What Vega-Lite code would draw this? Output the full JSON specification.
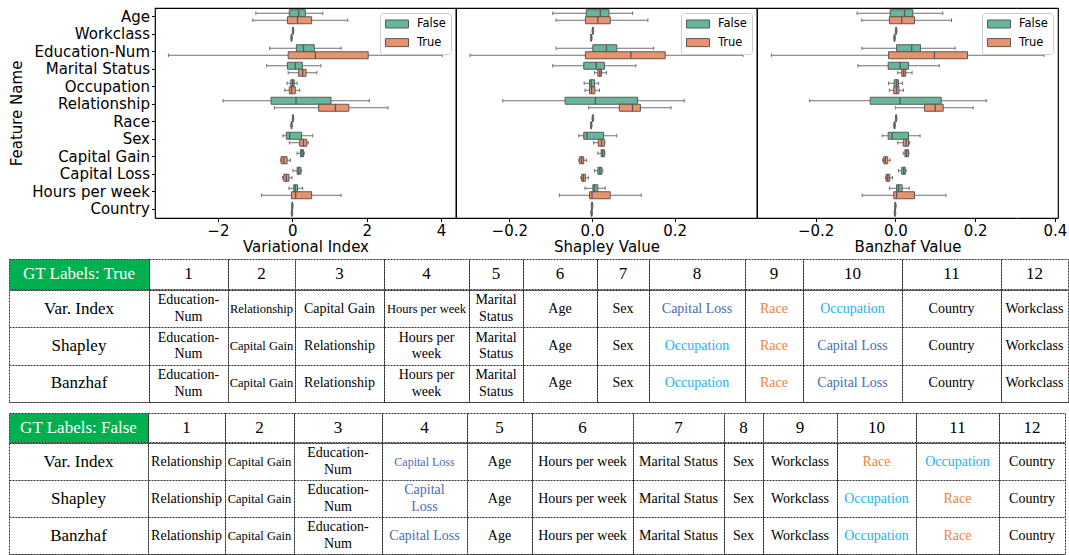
{
"$schema":"https://vega.github.io/schema/vega-lite/v6.json",
"padding":{"left":8,"top":7,"right":0,"bottom":0},
"spacing":2,
"config":{
 "font":"DejaVu Sans",
 "view":{"stroke":"#333","strokeDash":[2,1],"strokeWidth":1},
 "axis":{"labelFont":"DejaVu Sans","titleFont":"DejaVu Sans","labelFontSize":15,"titleFontSize":15,"titleFontWeight":"normal","labelColor":"#000","titleColor":"#000","tickColor":"#000","tickSize":3.5,"labelPadding":2,"titlePadding":1,"domain":false,"grid":false,"gridColor":"#333","gridDash":[2,1],"gridOpacity":1,"gridWidth":1,"labelFlush":false},
 "legend":{"labelFont":"DejaVu Sans","labelFontSize":11.5,"labelColor":"#000","strokeColor":"#cccccc","fillColor":"#ffffff","cornerRadius":3,"padding":5,"rowPadding":4.6,"labelOffset":20,"offset":5,"orient":"top-right","symbolType":"M-1,-0.73H3.18V0.73H-1Z","symbolSize":121,"symbolStrokeColor":"#595959","symbolStrokeWidth":1,"symbolOpacity":1},
 "text":{"font":"Liberation Serif","fontSize":14,"lineBreak":"\n","lineHeight":16.5,"color":"#000"},
 "tick":{"opacity":1},
 "concat":{"spacing":0}
},
"datasets":{
 "box":[
  {"p":"V","f":"Age","g":"False","lo":-0.98,"q1":-0.08,"md":0.17,"q3":0.35,"hi":0.82},
  {"p":"V","f":"Age","g":"True","lo":-1.06,"q1":-0.13,"md":0.14,"q3":0.52,"hi":1.49},
  {"p":"V","f":"Workclass","g":"False","lo":0,"q1":0.01,"md":0.02,"q3":0.03,"hi":0.04},
  {"p":"V","f":"Workclass","g":"True","lo":-0.04,"q1":-0.03,"md":-0.02,"q3":-0.01,"hi":0},
  {"p":"V","f":"Education-Num","g":"False","lo":-0.61,"q1":0.11,"md":0.3,"q3":0.59,"hi":1.31},
  {"p":"V","f":"Education-Num","g":"True","lo":-3.33,"q1":-0.11,"md":0.62,"q3":2.04,"hi":4.03},
  {"p":"V","f":"Marital Status","g":"False","lo":-0.69,"q1":-0.13,"md":0.08,"q3":0.27,"hi":0.77},
  {"p":"V","f":"Marital Status","g":"True","lo":-0.11,"q1":0.17,"md":0.28,"q3":0.37,"hi":0.66},
  {"p":"V","f":"Occupation","g":"False","lo":-0.14,"q1":-0.04,"md":0.01,"q3":0.05,"hi":0.13},
  {"p":"V","f":"Occupation","g":"True","lo":-0.2,"q1":-0.08,"md":-0.02,"q3":0.08,"hi":0.2},
  {"p":"V","f":"Relationship","g":"False","lo":-1.86,"q1":-0.57,"md":0.1,"q3":1.04,"hi":2.07},
  {"p":"V","f":"Relationship","g":"True","lo":-0.48,"q1":0.71,"md":1.16,"q3":1.52,"hi":2.57},
  {"p":"V","f":"Race","g":"False","lo":0,"q1":0.01,"md":0.02,"q3":0.03,"hi":0.04},
  {"p":"V","f":"Race","g":"True","lo":-0.04,"q1":-0.03,"md":-0.02,"q3":-0.01,"hi":0},
  {"p":"V","f":"Sex","g":"False","lo":-0.25,"q1":-0.16,"md":-0.07,"q3":0.25,"hi":0.55},
  {"p":"V","f":"Sex","g":"True","lo":-0.08,"q1":0.2,"md":0.3,"q3":0.39,"hi":0.43},
  {"p":"V","f":"Capital Gain","g":"False","lo":0.13,"q1":0.22,"md":0.26,"q3":0.3,"hi":0.32},
  {"p":"V","f":"Capital Gain","g":"True","lo":-0.32,"q1":-0.3,"md":-0.23,"q3":-0.14,"hi":-0.05},
  {"p":"V","f":"Capital Loss","g":"False","lo":0.02,"q1":0.13,"md":0.17,"q3":0.23,"hi":0.25},
  {"p":"V","f":"Capital Loss","g":"True","lo":-0.26,"q1":-0.23,"md":-0.16,"q3":-0.09,"hi":-0.01},
  {"p":"V","f":"Hours per week","g":"False","lo":-0.09,"q1":0.04,"md":0.08,"q3":0.14,"hi":0.28},
  {"p":"V","f":"Hours per week","g":"True","lo":-0.83,"q1":-0.02,"md":0.09,"q3":0.52,"hi":1.31},
  {"p":"V","f":"Country","g":"False","lo":-0.02,"q1":-0.01,"md":0,"q3":0.01,"hi":0.02},
  {"p":"V","f":"Country","g":"True","lo":-0.03,"q1":-0.02,"md":-0.01,"q3":0,"hi":0.01},
  {"p":"S","f":"Age","g":"False","lo":-0.095,"q1":-0.014,"md":0.02,"q3":0.041,"hi":0.098},
  {"p":"S","f":"Age","g":"True","lo":-0.087,"q1":-0.016,"md":0.014,"q3":0.044,"hi":0.135},
  {"p":"S","f":"Workclass","g":"False","lo":0,"q1":0.001,"md":0.002,"q3":0.003,"hi":0.004},
  {"p":"S","f":"Workclass","g":"True","lo":-0.004,"q1":-0.003,"md":-0.002,"q3":-0.001,"hi":0},
  {"p":"S","f":"Education-Num","g":"False","lo":-0.087,"q1":0.002,"md":0.035,"q3":0.06,"hi":0.149},
  {"p":"S","f":"Education-Num","g":"True","lo":-0.295,"q1":-0.016,"md":0.094,"q3":0.177,"hi":0.365},
  {"p":"S","f":"Marital Status","g":"False","lo":-0.095,"q1":-0.02,"md":0.01,"q3":0.03,"hi":0.106},
  {"p":"S","f":"Marital Status","g":"True","lo":0.006,"q1":0.014,"md":0.019,"q3":0.023,"hi":0.035},
  {"p":"S","f":"Occupation","g":"False","lo":-0.019,"q1":-0.006,"md":-0.002,"q3":0.006,"hi":0.016},
  {"p":"S","f":"Occupation","g":"True","lo":-0.017,"q1":-0.006,"md":-0.001,"q3":0.007,"hi":0.018},
  {"p":"S","f":"Relationship","g":"False","lo":-0.216,"q1":-0.065,"md":0.008,"q3":0.11,"hi":0.223},
  {"p":"S","f":"Relationship","g":"True","lo":-0.008,"q1":0.066,"md":0.098,"q3":0.117,"hi":0.191},
  {"p":"S","f":"Race","g":"False","lo":0,"q1":0.001,"md":0.002,"q3":0.003,"hi":0.004},
  {"p":"S","f":"Race","g":"True","lo":-0.004,"q1":-0.003,"md":-0.002,"q3":-0.001,"hi":0},
  {"p":"S","f":"Sex","g":"False","lo":-0.032,"q1":-0.02,"md":-0.012,"q3":0.028,"hi":0.06},
  {"p":"S","f":"Sex","g":"True","lo":0.004,"q1":0.015,"md":0.023,"q3":0.03,"hi":0.031},
  {"p":"S","f":"Capital Gain","g":"False","lo":0.014,"q1":0.022,"md":0.026,"q3":0.03,"hi":0.031},
  {"p":"S","f":"Capital Gain","g":"True","lo":-0.032,"q1":-0.03,"md":-0.025,"q3":-0.02,"hi":-0.013},
  {"p":"S","f":"Capital Loss","g":"False","lo":0.006,"q1":0.014,"md":0.019,"q3":0.024,"hi":0.026},
  {"p":"S","f":"Capital Loss","g":"True","lo":-0.027,"q1":-0.025,"md":-0.021,"q3":-0.016,"hi":-0.009},
  {"p":"S","f":"Hours per week","g":"False","lo":-0.017,"q1":0.002,"md":0.006,"q3":0.014,"hi":0.032},
  {"p":"S","f":"Hours per week","g":"True","lo":-0.079,"q1":-0.006,"md":0,"q3":0.044,"hi":0.119},
  {"p":"S","f":"Country","g":"False","lo":-0.002,"q1":-0.001,"md":0,"q3":0.001,"hi":0.002},
  {"p":"S","f":"Country","g":"True","lo":-0.003,"q1":-0.002,"md":-0.001,"q3":0,"hi":0.001},
  {"p":"B","f":"Age","g":"False","lo":-0.096,"q1":-0.013,"md":0.023,"q3":0.044,"hi":0.119},
  {"p":"B","f":"Age","g":"True","lo":-0.084,"q1":-0.015,"md":0.016,"q3":0.048,"hi":0.141},
  {"p":"B","f":"Workclass","g":"False","lo":0,"q1":0.001,"md":0.002,"q3":0.003,"hi":0.004},
  {"p":"B","f":"Workclass","g":"True","lo":-0.004,"q1":-0.003,"md":-0.002,"q3":-0.001,"hi":0},
  {"p":"B","f":"Education-Num","g":"False","lo":-0.084,"q1":0.003,"md":0.041,"q3":0.063,"hi":0.15},
  {"p":"B","f":"Education-Num","g":"True","lo":-0.311,"q1":-0.017,"md":0.098,"q3":0.181,"hi":0.373},
  {"p":"B","f":"Marital Status","g":"False","lo":-0.094,"q1":-0.018,"md":0.012,"q3":0.033,"hi":0.11},
  {"p":"B","f":"Marital Status","g":"True","lo":0.006,"q1":0.016,"md":0.021,"q3":0.026,"hi":0.042},
  {"p":"B","f":"Occupation","g":"False","lo":-0.017,"q1":-0.003,"md":0.003,"q3":0.008,"hi":0.018},
  {"p":"B","f":"Occupation","g":"True","lo":-0.015,"q1":-0.004,"md":0.003,"q3":0.009,"hi":0.02},
  {"p":"B","f":"Relationship","g":"False","lo":-0.215,"q1":-0.063,"md":0.012,"q3":0.115,"hi":0.228},
  {"p":"B","f":"Relationship","g":"True","lo":0,"q1":0.073,"md":0.1,"q3":0.12,"hi":0.195},
  {"p":"B","f":"Race","g":"False","lo":0,"q1":0.001,"md":0.002,"q3":0.003,"hi":0.004},
  {"p":"B","f":"Race","g":"True","lo":-0.004,"q1":-0.003,"md":-0.002,"q3":-0.001,"hi":0},
  {"p":"B","f":"Sex","g":"False","lo":-0.033,"q1":-0.018,"md":-0.008,"q3":0.033,"hi":0.062},
  {"p":"B","f":"Sex","g":"True","lo":0.006,"q1":0.02,"md":0.027,"q3":0.033,"hi":0.036},
  {"p":"B","f":"Capital Gain","g":"False","lo":0.02,"q1":0.024,"md":0.028,"q3":0.033,"hi":0.034},
  {"p":"B","f":"Capital Gain","g":"True","lo":-0.032,"q1":-0.029,"md":-0.025,"q3":-0.019,"hi":-0.013},
  {"p":"B","f":"Capital Loss","g":"False","lo":0.008,"q1":0.016,"md":0.021,"q3":0.025,"hi":0.027},
  {"p":"B","f":"Capital Loss","g":"True","lo":-0.025,"q1":-0.023,"md":-0.019,"q3":-0.014,"hi":-0.007},
  {"p":"B","f":"Hours per week","g":"False","lo":-0.015,"q1":0.003,"md":0.008,"q3":0.017,"hi":0.035},
  {"p":"B","f":"Hours per week","g":"True","lo":-0.083,"q1":-0.004,"md":0.003,"q3":0.048,"hi":0.127},
  {"p":"B","f":"Country","g":"False","lo":-0.002,"q1":-0.001,"md":0,"q3":0.001,"hi":0.002},
  {"p":"B","f":"Country","g":"True","lo":-0.003,"q1":-0.002,"md":-0.001,"q3":0,"hi":0.001}
 ],
 "h1":[{"k":0,"t":"GT Labels: True"},{"k":1,"t":"1"},{"k":2,"t":"2"},{"k":3,"t":"3"},{"k":4,"t":"4"},{"k":5,"t":"5"},{"k":6,"t":"6"},{"k":7,"t":"7"},{"k":8,"t":"8"},{"k":9,"t":"9"},{"k":10,"t":"10"},{"k":11,"t":"11"},{"k":12,"t":"12"}],
 "h2":[{"k":0,"t":"GT Labels: False"},{"k":1,"t":"1"},{"k":2,"t":"2"},{"k":3,"t":"3"},{"k":4,"t":"4"},{"k":5,"t":"5"},{"k":6,"t":"6"},{"k":7,"t":"7"},{"k":8,"t":"8"},{"k":9,"t":"9"},{"k":10,"t":"10"},{"k":11,"t":"11"},{"k":12,"t":"12"}],
 "t1":[
  {"k":0,"r":"Var. Index","t":"Var. Index"},{"k":0,"r":"Shapley","t":"Shapley"},{"k":0,"r":"Banzhaf","t":"Banzhaf"},
  {"k":1,"r":"Var. Index","t":"Education-\nNum"},{"k":1,"r":"Shapley","t":"Education-\nNum"},{"k":1,"r":"Banzhaf","t":"Education-\nNum"},
  {"k":2,"r":"Var. Index","t":"Relationship"},{"k":2,"r":"Shapley","t":"Capital Gain"},{"k":2,"r":"Banzhaf","t":"Capital Gain"},
  {"k":3,"r":"Var. Index","t":"Capital Gain"},{"k":3,"r":"Shapley","t":"Relationship"},{"k":3,"r":"Banzhaf","t":"Relationship"},
  {"k":4,"r":"Var. Index","t":"Hours per week"},{"k":4,"r":"Shapley","t":"Hours per\nweek"},{"k":4,"r":"Banzhaf","t":"Hours per\nweek"},
  {"k":5,"r":"Var. Index","t":"Marital\nStatus"},{"k":5,"r":"Shapley","t":"Marital\nStatus"},{"k":5,"r":"Banzhaf","t":"Marital\nStatus"},
  {"k":6,"r":"Var. Index","t":"Age"},{"k":6,"r":"Shapley","t":"Age"},{"k":6,"r":"Banzhaf","t":"Age"},
  {"k":7,"r":"Var. Index","t":"Sex"},{"k":7,"r":"Shapley","t":"Sex"},{"k":7,"r":"Banzhaf","t":"Sex"},
  {"k":8,"r":"Var. Index","t":"Capital Loss"},{"k":8,"r":"Shapley","t":"Occupation"},{"k":8,"r":"Banzhaf","t":"Occupation"},
  {"k":9,"r":"Var. Index","t":"Race"},{"k":9,"r":"Shapley","t":"Race"},{"k":9,"r":"Banzhaf","t":"Race"},
  {"k":10,"r":"Var. Index","t":"Occupation"},{"k":10,"r":"Shapley","t":"Capital Loss"},{"k":10,"r":"Banzhaf","t":"Capital Loss"},
  {"k":11,"r":"Var. Index","t":"Country"},{"k":11,"r":"Shapley","t":"Country"},{"k":11,"r":"Banzhaf","t":"Country"},
  {"k":12,"r":"Var. Index","t":"Workclass"},{"k":12,"r":"Shapley","t":"Workclass"},{"k":12,"r":"Banzhaf","t":"Workclass"}
 ],
 "t2":[
  {"k":0,"r":"Var. Index","t":"Var. Index"},{"k":0,"r":"Shapley","t":"Shapley"},{"k":0,"r":"Banzhaf","t":"Banzhaf"},
  {"k":1,"r":"Var. Index","t":"Relationship"},{"k":1,"r":"Shapley","t":"Relationship"},{"k":1,"r":"Banzhaf","t":"Relationship"},
  {"k":2,"r":"Var. Index","t":"Capital Gain"},{"k":2,"r":"Shapley","t":"Capital Gain"},{"k":2,"r":"Banzhaf","t":"Capital Gain"},
  {"k":3,"r":"Var. Index","t":"Education-\nNum"},{"k":3,"r":"Shapley","t":"Education-\nNum"},{"k":3,"r":"Banzhaf","t":"Education-\nNum"},
  {"k":4,"r":"Var. Index","t":"Capital Loss"},{"k":4,"r":"Shapley","t":"Capital\nLoss"},{"k":4,"r":"Banzhaf","t":"Capital Loss"},
  {"k":5,"r":"Var. Index","t":"Age"},{"k":5,"r":"Shapley","t":"Age"},{"k":5,"r":"Banzhaf","t":"Age"},
  {"k":6,"r":"Var. Index","t":"Hours per week"},{"k":6,"r":"Shapley","t":"Hours per week"},{"k":6,"r":"Banzhaf","t":"Hours per week"},
  {"k":7,"r":"Var. Index","t":"Marital Status"},{"k":7,"r":"Shapley","t":"Marital Status"},{"k":7,"r":"Banzhaf","t":"Marital Status"},
  {"k":8,"r":"Var. Index","t":"Sex"},{"k":8,"r":"Shapley","t":"Sex"},{"k":8,"r":"Banzhaf","t":"Sex"},
  {"k":9,"r":"Var. Index","t":"Workclass"},{"k":9,"r":"Shapley","t":"Workclass"},{"k":9,"r":"Banzhaf","t":"Workclass"},
  {"k":10,"r":"Var. Index","t":"Race"},{"k":10,"r":"Shapley","t":"Occupation"},{"k":10,"r":"Banzhaf","t":"Occupation"},
  {"k":11,"r":"Var. Index","t":"Occupation"},{"k":11,"r":"Shapley","t":"Race"},{"k":11,"r":"Banzhaf","t":"Race"},
  {"k":12,"r":"Var. Index","t":"Country"},{"k":12,"r":"Shapley","t":"Country"},{"k":12,"r":"Banzhaf","t":"Country"}
 ]
},
"vconcat":[
 {"hconcat":[
  {"width":146,"height":210,"view":{"stroke":null},"data":{"name":"h1"},"transform":[{"filter":"datum.k<0"}],"mark":{"type":"text"},"encoding":{"text":{"field":"t"}}},
  {"width":301,"height":210,"view":{"stroke":"#000","strokeDash":[1,0],"strokeWidth":1.2},
   "data":{"name":"box"},"transform":[{"filter":"datum.p=='V'"}],
   "encoding":{"y":{"field":"f","type":"nominal","scale":{"domain":["Age","Workclass","Education-Num","Marital Status","Occupation","Relationship","Race","Sex","Capital Gain","Capital Loss","Hours per week","Country"],"paddingInner":0,"paddingOuter":0},"axis":{"title":"Feature Name","titlePadding":7}},
    "yOffset":{"field":"g","type":"nominal","scale":{"domain":["False","True"],"paddingInner":0,"paddingOuter":0.25}}},
   "layer":[
    {"mark":{"type":"rule","color":"#707070","strokeWidth":1},"encoding":{"x":{"field":"lo","type":"quantitative","title":"Variational Index","scale":{"domain":[-3.69,4.4],"nice":false,"zero":false},"axis":{"values":[-2,0,2,4],"format":"d"}},"x2":{"field":"hi"}}},
    {"mark":{"type":"bar","stroke":"#595959","strokeWidth":1},"encoding":{"x":{"field":"q1","type":"quantitative","title":"Variational Index"},"x2":{"field":"q3"},"color":{"field":"g","type":"nominal","scale":{"domain":["False","True"],"range":["#66b79a","#e9926e"]},"legend":{"title":null}}}},
    {"mark":{"type":"tick","color":"#595959","size":7,"thickness":1.3},"encoding":{"x":{"field":"md","type":"quantitative","title":"Variational Index"}}},
    {"mark":{"type":"tick","color":"#707070","size":3.5,"thickness":1},"encoding":{"x":{"field":"lo","type":"quantitative","title":"Variational Index"}}},
    {"mark":{"type":"tick","color":"#707070","size":3.5,"thickness":1},"encoding":{"x":{"field":"hi","type":"quantitative","title":"Variational Index"}}}
   ]},
  {"width":301,"height":210,"view":{"stroke":"#000","strokeDash":[1,0],"strokeWidth":1.2},
   "data":{"name":"box"},"transform":[{"filter":"datum.p=='S'"}],
   "encoding":{"y":{"field":"f","type":"nominal","scale":{"domain":["Age","Workclass","Education-Num","Marital Status","Occupation","Relationship","Race","Sex","Capital Gain","Capital Loss","Hours per week","Country"],"paddingInner":0,"paddingOuter":0},"axis":null},
    "yOffset":{"field":"g","type":"nominal","scale":{"domain":["False","True"],"paddingInner":0,"paddingOuter":0.25}}},
   "layer":[
    {"mark":{"type":"rule","color":"#707070","strokeWidth":1},"encoding":{"x":{"field":"lo","type":"quantitative","title":"Shapley Value","scale":{"domain":[-0.329,0.399],"nice":false,"zero":false},"axis":{"values":[-0.2,0,0.2],"format":".1f"}},"x2":{"field":"hi"}}},
    {"mark":{"type":"bar","stroke":"#595959","strokeWidth":1},"encoding":{"x":{"field":"q1","type":"quantitative","title":"Shapley Value"},"x2":{"field":"q3"},"color":{"field":"g","type":"nominal","scale":{"domain":["False","True"],"range":["#66b79a","#e9926e"]},"legend":{"title":null}}}},
    {"mark":{"type":"tick","color":"#595959","size":7,"thickness":1.3},"encoding":{"x":{"field":"md","type":"quantitative","title":"Shapley Value"}}},
    {"mark":{"type":"tick","color":"#707070","size":3.5,"thickness":1},"encoding":{"x":{"field":"lo","type":"quantitative","title":"Shapley Value"}}},
    {"mark":{"type":"tick","color":"#707070","size":3.5,"thickness":1},"encoding":{"x":{"field":"hi","type":"quantitative","title":"Shapley Value"}}}
   ]},
  {"width":301,"height":210,"view":{"stroke":"#000","strokeDash":[1,0],"strokeWidth":1.2},
   "data":{"name":"box"},"transform":[{"filter":"datum.p=='B'"}],
   "encoding":{"y":{"field":"f","type":"nominal","scale":{"domain":["Age","Workclass","Education-Num","Marital Status","Occupation","Relationship","Race","Sex","Capital Gain","Capital Loss","Hours per week","Country"],"paddingInner":0,"paddingOuter":0},"axis":null},
    "yOffset":{"field":"g","type":"nominal","scale":{"domain":["False","True"],"paddingInner":0,"paddingOuter":0.25}}},
   "layer":[
    {"mark":{"type":"rule","color":"#707070","strokeWidth":1},"encoding":{"x":{"field":"lo","type":"quantitative","title":"Banzhaf Value","scale":{"domain":[-0.347,0.408],"nice":false,"zero":false},"axis":{"values":[-0.2,0,0.2,0.4],"format":".1f"}},"x2":{"field":"hi"}}},
    {"mark":{"type":"bar","stroke":"#595959","strokeWidth":1},"encoding":{"x":{"field":"q1","type":"quantitative","title":"Banzhaf Value"},"x2":{"field":"q3"},"color":{"field":"g","type":"nominal","scale":{"domain":["False","True"],"range":["#66b79a","#e9926e"]},"legend":{"title":null}}}},
    {"mark":{"type":"tick","color":"#595959","size":7,"thickness":1.3},"encoding":{"x":{"field":"md","type":"quantitative","title":"Banzhaf Value"}}},
    {"mark":{"type":"tick","color":"#707070","size":3.5,"thickness":1},"encoding":{"x":{"field":"lo","type":"quantitative","title":"Banzhaf Value"}}},
    {"mark":{"type":"tick","color":"#707070","size":3.5,"thickness":1},"encoding":{"x":{"field":"hi","type":"quantitative","title":"Banzhaf Value"}}}
   ]}
 ],"spacing":0,"bounds":"flush",
 "resolve":{"scale":{"x":"independent","y":"independent","yOffset":"independent","color":"independent"},"axis":{"x":"independent","y":"independent"},"legend":{"color":"independent"}}},
 {"vconcat":[
  {"vconcat":[
   {"hconcat":[
    {"width":140,"height":30,"view":{"fill":"#00b050","stroke":"#333","strokeDash":[2,1]},"data":{"name":"h1"},"transform":[{"filter":"datum.k==0"}],"mark":{"type":"text","fontSize":17,"color":"#fff"},"encoding":{"text":{"field":"t"}}},
    {"width":79,"height":30,"view":{"stroke":"#333","strokeDash":[2,1]},"data":{"name":"h1"},"transform":[{"filter":"datum.k==1"}],"mark":{"type":"text","fontSize":17},"encoding":{"text":{"field":"t"}}},
    {"width":67,"height":30,"view":{"stroke":"#333","strokeDash":[2,1]},"data":{"name":"h1"},"transform":[{"filter":"datum.k==2"}],"mark":{"type":"text","fontSize":17},"encoding":{"text":{"field":"t"}}},
    {"width":89,"height":30,"view":{"stroke":"#333","strokeDash":[2,1]},"data":{"name":"h1"},"transform":[{"filter":"datum.k==3"}],"mark":{"type":"text","fontSize":17},"encoding":{"text":{"field":"t"}}},
    {"width":85,"height":30,"view":{"stroke":"#333","strokeDash":[2,1]},"data":{"name":"h1"},"transform":[{"filter":"datum.k==4"}],"mark":{"type":"text","fontSize":17},"encoding":{"text":{"field":"t"}}},
    {"width":54,"height":30,"view":{"stroke":"#333","strokeDash":[2,1]},"data":{"name":"h1"},"transform":[{"filter":"datum.k==5"}],"mark":{"type":"text","fontSize":17},"encoding":{"text":{"field":"t"}}},
    {"width":74,"height":30,"view":{"stroke":"#333","strokeDash":[2,1]},"data":{"name":"h1"},"transform":[{"filter":"datum.k==6"}],"mark":{"type":"text","fontSize":17},"encoding":{"text":{"field":"t"}}},
    {"width":52,"height":30,"view":{"stroke":"#333","strokeDash":[2,1]},"data":{"name":"h1"},"transform":[{"filter":"datum.k==7"}],"mark":{"type":"text","fontSize":17},"encoding":{"text":{"field":"t"}}},
    {"width":96,"height":30,"view":{"stroke":"#333","strokeDash":[2,1]},"data":{"name":"h1"},"transform":[{"filter":"datum.k==8"}],"mark":{"type":"text","fontSize":17},"encoding":{"text":{"field":"t"}}},
    {"width":58,"height":30,"view":{"stroke":"#333","strokeDash":[2,1]},"data":{"name":"h1"},"transform":[{"filter":"datum.k==9"}],"mark":{"type":"text","fontSize":17},"encoding":{"text":{"field":"t"}}},
    {"width":99,"height":30,"view":{"stroke":"#333","strokeDash":[2,1]},"data":{"name":"h1"},"transform":[{"filter":"datum.k==10"}],"mark":{"type":"text","fontSize":17},"encoding":{"text":{"field":"t"}}},
    {"width":99,"height":30,"view":{"stroke":"#333","strokeDash":[2,1]},"data":{"name":"h1"},"transform":[{"filter":"datum.k==11"}],"mark":{"type":"text","fontSize":17},"encoding":{"text":{"field":"t"}}},
    {"width":67,"height":30,"view":{"stroke":"#333","strokeDash":[2,1]},"data":{"name":"h1"},"transform":[{"filter":"datum.k==12"}],"mark":{"type":"text","fontSize":17},"encoding":{"text":{"field":"t"}}}
   ],"spacing":0,"bounds":"flush"},
   {"hconcat":[
    {"width":140,"height":112,"data":{"name":"t1"},"transform":[{"filter":"datum.k==0"}],"mark":{"type":"text","fontSize":17},"encoding":{"y":{"field":"r","type":"nominal","sort":["Var. Index","Shapley","Banzhaf"],"scale":{"paddingInner":0,"paddingOuter":0},"axis":{"grid":true,"tickBand":"extent","labels":false,"ticks":false,"title":null}},"text":{"field":"t"}}},
    {"width":79,"height":112,"data":{"name":"t1"},"transform":[{"filter":"datum.k==1"}],"mark":{"type":"text","dy":-8.25},"encoding":{"y":{"field":"r","type":"nominal","sort":["Var. Index","Shapley","Banzhaf"],"scale":{"paddingInner":0,"paddingOuter":0},"axis":{"grid":true,"tickBand":"extent","labels":false,"ticks":false,"title":null}},"text":{"field":"t"}}},
    {"width":67,"height":112,"data":{"name":"t1"},"transform":[{"filter":"datum.k==2"}],"mark":{"type":"text","fontSize":12.5},"encoding":{"y":{"field":"r","type":"nominal","sort":["Var. Index","Shapley","Banzhaf"],"scale":{"paddingInner":0,"paddingOuter":0},"axis":{"grid":true,"tickBand":"extent","labels":false,"ticks":false,"title":null}},"text":{"field":"t"}}},
    {"width":89,"height":112,"data":{"name":"t1"},"transform":[{"filter":"datum.k==3"}],"mark":{"type":"text"},"encoding":{"y":{"field":"r","type":"nominal","sort":["Var. Index","Shapley","Banzhaf"],"scale":{"paddingInner":0,"paddingOuter":0},"axis":{"grid":true,"tickBand":"extent","labels":false,"ticks":false,"title":null}},"text":{"field":"t"}}},
    {"width":85,"height":112,"data":{"name":"t1"},"transform":[{"filter":"datum.k==4"}],"encoding":{"y":{"field":"r","type":"nominal","sort":["Var. Index","Shapley","Banzhaf"],"scale":{"paddingInner":0,"paddingOuter":0},"axis":{"grid":true,"tickBand":"extent","labels":false,"ticks":false,"title":null}},"text":{"field":"t"}},
     "layer":[
      {"transform":[{"filter":"!test(/\\n/,datum.t)"}],"mark":{"type":"text","fontSize":12.5}},
      {"transform":[{"filter":"test(/\\n/,datum.t)"}],"mark":{"type":"text","dy":-8.25}}
     ]},
    {"width":54,"height":112,"data":{"name":"t1"},"transform":[{"filter":"datum.k==5"}],"mark":{"type":"text","dy":-8.25},"encoding":{"y":{"field":"r","type":"nominal","sort":["Var. Index","Shapley","Banzhaf"],"scale":{"paddingInner":0,"paddingOuter":0},"axis":{"grid":true,"tickBand":"extent","labels":false,"ticks":false,"title":null}},"text":{"field":"t"}}},
    {"width":74,"height":112,"data":{"name":"t1"},"transform":[{"filter":"datum.k==6"}],"mark":{"type":"text"},"encoding":{"y":{"field":"r","type":"nominal","sort":["Var. Index","Shapley","Banzhaf"],"scale":{"paddingInner":0,"paddingOuter":0},"axis":{"grid":true,"tickBand":"extent","labels":false,"ticks":false,"title":null}},"text":{"field":"t"}}},
    {"width":52,"height":112,"data":{"name":"t1"},"transform":[{"filter":"datum.k==7"}],"mark":{"type":"text"},"encoding":{"y":{"field":"r","type":"nominal","sort":["Var. Index","Shapley","Banzhaf"],"scale":{"paddingInner":0,"paddingOuter":0},"axis":{"grid":true,"tickBand":"extent","labels":false,"ticks":false,"title":null}},"text":{"field":"t"}}},
    {"width":96,"height":112,"data":{"name":"t1"},"transform":[{"filter":"datum.k==8"}],"mark":{"type":"text"},"encoding":{"y":{"field":"r","type":"nominal","sort":["Var. Index","Shapley","Banzhaf"],"scale":{"paddingInner":0,"paddingOuter":0},"axis":{"grid":true,"tickBand":"extent","labels":false,"ticks":false,"title":null}},"text":{"field":"t"},"color":{"condition":[{"test":"test(/Race/,datum.t)","value":"#ef8240"},{"test":"test(/Occup/,datum.t)","value":"#1cb2ef"},{"test":"test(/Loss/,datum.t)","value":"#4a6cb3"}],"value":"#000"}}},
    {"width":58,"height":112,"data":{"name":"t1"},"transform":[{"filter":"datum.k==9"}],"mark":{"type":"text"},"encoding":{"y":{"field":"r","type":"nominal","sort":["Var. Index","Shapley","Banzhaf"],"scale":{"paddingInner":0,"paddingOuter":0},"axis":{"grid":true,"tickBand":"extent","labels":false,"ticks":false,"title":null}},"text":{"field":"t"},"color":{"condition":[{"test":"test(/Race/,datum.t)","value":"#ef8240"},{"test":"test(/Occup/,datum.t)","value":"#1cb2ef"},{"test":"test(/Loss/,datum.t)","value":"#4a6cb3"}],"value":"#000"}}},
    {"width":99,"height":112,"data":{"name":"t1"},"transform":[{"filter":"datum.k==10"}],"mark":{"type":"text"},"encoding":{"y":{"field":"r","type":"nominal","sort":["Var. Index","Shapley","Banzhaf"],"scale":{"paddingInner":0,"paddingOuter":0},"axis":{"grid":true,"tickBand":"extent","labels":false,"ticks":false,"title":null}},"text":{"field":"t"},"color":{"condition":[{"test":"test(/Race/,datum.t)","value":"#ef8240"},{"test":"test(/Occup/,datum.t)","value":"#1cb2ef"},{"test":"test(/Loss/,datum.t)","value":"#4a6cb3"}],"value":"#000"}}},
    {"width":99,"height":112,"data":{"name":"t1"},"transform":[{"filter":"datum.k==11"}],"mark":{"type":"text"},"encoding":{"y":{"field":"r","type":"nominal","sort":["Var. Index","Shapley","Banzhaf"],"scale":{"paddingInner":0,"paddingOuter":0},"axis":{"grid":true,"tickBand":"extent","labels":false,"ticks":false,"title":null}},"text":{"field":"t"}}},
    {"width":67,"height":112,"data":{"name":"t1"},"transform":[{"filter":"datum.k==12"}],"mark":{"type":"text"},"encoding":{"y":{"field":"r","type":"nominal","sort":["Var. Index","Shapley","Banzhaf"],"scale":{"paddingInner":0,"paddingOuter":0},"axis":{"grid":true,"tickBand":"extent","labels":false,"ticks":false,"title":null}},"text":{"field":"t"}}}
   ],"spacing":0,"bounds":"flush"}
  ],"spacing":-2},
  {"vconcat":[
   {"hconcat":[
    {"width":139,"height":29,"view":{"fill":"#00b050","stroke":"#333","strokeDash":[2,1]},"data":{"name":"h2"},"transform":[{"filter":"datum.k==0"}],"mark":{"type":"text","fontSize":17,"color":"#fff"},"encoding":{"text":{"field":"t"}}},
    {"width":77,"height":29,"view":{"stroke":"#333","strokeDash":[2,1]},"data":{"name":"h2"},"transform":[{"filter":"datum.k==1"}],"mark":{"type":"text","fontSize":17},"encoding":{"text":{"field":"t"}}},
    {"width":69,"height":29,"view":{"stroke":"#333","strokeDash":[2,1]},"data":{"name":"h2"},"transform":[{"filter":"datum.k==2"}],"mark":{"type":"text","fontSize":17},"encoding":{"text":{"field":"t"}}},
    {"width":88,"height":29,"view":{"stroke":"#333","strokeDash":[2,1]},"data":{"name":"h2"},"transform":[{"filter":"datum.k==3"}],"mark":{"type":"text","fontSize":17},"encoding":{"text":{"field":"t"}}},
    {"width":85,"height":29,"view":{"stroke":"#333","strokeDash":[2,1]},"data":{"name":"h2"},"transform":[{"filter":"datum.k==4"}],"mark":{"type":"text","fontSize":17},"encoding":{"text":{"field":"t"}}},
    {"width":65,"height":29,"view":{"stroke":"#333","strokeDash":[2,1]},"data":{"name":"h2"},"transform":[{"filter":"datum.k==5"}],"mark":{"type":"text","fontSize":17},"encoding":{"text":{"field":"t"}}},
    {"width":101,"height":29,"view":{"stroke":"#333","strokeDash":[2,1]},"data":{"name":"h2"},"transform":[{"filter":"datum.k==6"}],"mark":{"type":"text","fontSize":17},"encoding":{"text":{"field":"t"}}},
    {"width":91,"height":29,"view":{"stroke":"#333","strokeDash":[2,1]},"data":{"name":"h2"},"transform":[{"filter":"datum.k==7"}],"mark":{"type":"text","fontSize":17},"encoding":{"text":{"field":"t"}}},
    {"width":39,"height":29,"view":{"stroke":"#333","strokeDash":[2,1]},"data":{"name":"h2"},"transform":[{"filter":"datum.k==8"}],"mark":{"type":"text","fontSize":17},"encoding":{"text":{"field":"t"}}},
    {"width":74,"height":29,"view":{"stroke":"#333","strokeDash":[2,1]},"data":{"name":"h2"},"transform":[{"filter":"datum.k==9"}],"mark":{"type":"text","fontSize":17},"encoding":{"text":{"field":"t"}}},
    {"width":79,"height":29,"view":{"stroke":"#333","strokeDash":[2,1]},"data":{"name":"h2"},"transform":[{"filter":"datum.k==10"}],"mark":{"type":"text","fontSize":17},"encoding":{"text":{"field":"t"}}},
    {"width":83,"height":29,"view":{"stroke":"#333","strokeDash":[2,1]},"data":{"name":"h2"},"transform":[{"filter":"datum.k==11"}],"mark":{"type":"text","fontSize":17},"encoding":{"text":{"field":"t"}}},
    {"width":66,"height":29,"view":{"stroke":"#333","strokeDash":[2,1]},"data":{"name":"h2"},"transform":[{"filter":"datum.k==12"}],"mark":{"type":"text","fontSize":17},"encoding":{"text":{"field":"t"}}}
   ],"spacing":0,"bounds":"flush"},
   {"hconcat":[
    {"width":139,"height":111,"data":{"name":"t2"},"transform":[{"filter":"datum.k==0"}],"mark":{"type":"text","fontSize":17},"encoding":{"y":{"field":"r","type":"nominal","sort":["Var. Index","Shapley","Banzhaf"],"scale":{"paddingInner":0,"paddingOuter":0},"axis":{"grid":true,"tickBand":"extent","labels":false,"ticks":false,"title":null}},"text":{"field":"t"}}},
    {"width":77,"height":111,"data":{"name":"t2"},"transform":[{"filter":"datum.k==1"}],"mark":{"type":"text"},"encoding":{"y":{"field":"r","type":"nominal","sort":["Var. Index","Shapley","Banzhaf"],"scale":{"paddingInner":0,"paddingOuter":0},"axis":{"grid":true,"tickBand":"extent","labels":false,"ticks":false,"title":null}},"text":{"field":"t"}}},
    {"width":69,"height":111,"data":{"name":"t2"},"transform":[{"filter":"datum.k==2"}],"mark":{"type":"text","fontSize":12.5},"encoding":{"y":{"field":"r","type":"nominal","sort":["Var. Index","Shapley","Banzhaf"],"scale":{"paddingInner":0,"paddingOuter":0},"axis":{"grid":true,"tickBand":"extent","labels":false,"ticks":false,"title":null}},"text":{"field":"t"}}},
    {"width":88,"height":111,"data":{"name":"t2"},"transform":[{"filter":"datum.k==3"}],"mark":{"type":"text","dy":-8.25},"encoding":{"y":{"field":"r","type":"nominal","sort":["Var. Index","Shapley","Banzhaf"],"scale":{"paddingInner":0,"paddingOuter":0},"axis":{"grid":true,"tickBand":"extent","labels":false,"ticks":false,"title":null}},"text":{"field":"t"}}},
    {"width":85,"height":111,"data":{"name":"t2"},"transform":[{"filter":"datum.k==4"}],"encoding":{"y":{"field":"r","type":"nominal","sort":["Var. Index","Shapley","Banzhaf"],"scale":{"paddingInner":0,"paddingOuter":0},"axis":{"grid":true,"tickBand":"extent","labels":false,"ticks":false,"title":null}},"text":{"field":"t"},"color":{"condition":[{"test":"test(/Race/,datum.t)","value":"#ef8240"},{"test":"test(/Occup/,datum.t)","value":"#1cb2ef"},{"test":"test(/Loss/,datum.t)","value":"#4a6cb3"}],"value":"#000"}},
     "layer":[
      {"transform":[{"filter":"!test(/\\n/,datum.t)"}],"mark":{"type":"text"},"encoding":{"size":{"condition":{"test":"datum.r=='Var. Index'","value":12},"value":14}}},
      {"transform":[{"filter":"test(/\\n/,datum.t)"}],"mark":{"type":"text","dy":-8.25}}
     ]},
    {"width":65,"height":111,"data":{"name":"t2"},"transform":[{"filter":"datum.k==5"}],"mark":{"type":"text"},"encoding":{"y":{"field":"r","type":"nominal","sort":["Var. Index","Shapley","Banzhaf"],"scale":{"paddingInner":0,"paddingOuter":0},"axis":{"grid":true,"tickBand":"extent","labels":false,"ticks":false,"title":null}},"text":{"field":"t"}}},
    {"width":101,"height":111,"data":{"name":"t2"},"transform":[{"filter":"datum.k==6"}],"mark":{"type":"text"},"encoding":{"y":{"field":"r","type":"nominal","sort":["Var. Index","Shapley","Banzhaf"],"scale":{"paddingInner":0,"paddingOuter":0},"axis":{"grid":true,"tickBand":"extent","labels":false,"ticks":false,"title":null}},"text":{"field":"t"}}},
    {"width":91,"height":111,"data":{"name":"t2"},"transform":[{"filter":"datum.k==7"}],"mark":{"type":"text"},"encoding":{"y":{"field":"r","type":"nominal","sort":["Var. Index","Shapley","Banzhaf"],"scale":{"paddingInner":0,"paddingOuter":0},"axis":{"grid":true,"tickBand":"extent","labels":false,"ticks":false,"title":null}},"text":{"field":"t"}}},
    {"width":39,"height":111,"data":{"name":"t2"},"transform":[{"filter":"datum.k==8"}],"mark":{"type":"text"},"encoding":{"y":{"field":"r","type":"nominal","sort":["Var. Index","Shapley","Banzhaf"],"scale":{"paddingInner":0,"paddingOuter":0},"axis":{"grid":true,"tickBand":"extent","labels":false,"ticks":false,"title":null}},"text":{"field":"t"}}},
    {"width":74,"height":111,"data":{"name":"t2"},"transform":[{"filter":"datum.k==9"}],"mark":{"type":"text"},"encoding":{"y":{"field":"r","type":"nominal","sort":["Var. Index","Shapley","Banzhaf"],"scale":{"paddingInner":0,"paddingOuter":0},"axis":{"grid":true,"tickBand":"extent","labels":false,"ticks":false,"title":null}},"text":{"field":"t"}}},
    {"width":79,"height":111,"data":{"name":"t2"},"transform":[{"filter":"datum.k==10"}],"mark":{"type":"text"},"encoding":{"y":{"field":"r","type":"nominal","sort":["Var. Index","Shapley","Banzhaf"],"scale":{"paddingInner":0,"paddingOuter":0},"axis":{"grid":true,"tickBand":"extent","labels":false,"ticks":false,"title":null}},"text":{"field":"t"},"color":{"condition":[{"test":"test(/Race/,datum.t)","value":"#ef8240"},{"test":"test(/Occup/,datum.t)","value":"#1cb2ef"},{"test":"test(/Loss/,datum.t)","value":"#4a6cb3"}],"value":"#000"}}},
    {"width":83,"height":111,"data":{"name":"t2"},"transform":[{"filter":"datum.k==11"}],"mark":{"type":"text"},"encoding":{"y":{"field":"r","type":"nominal","sort":["Var. Index","Shapley","Banzhaf"],"scale":{"paddingInner":0,"paddingOuter":0},"axis":{"grid":true,"tickBand":"extent","labels":false,"ticks":false,"title":null}},"text":{"field":"t"},"color":{"condition":[{"test":"test(/Race/,datum.t)","value":"#ef8240"},{"test":"test(/Occup/,datum.t)","value":"#1cb2ef"},{"test":"test(/Loss/,datum.t)","value":"#4a6cb3"}],"value":"#000"}}},
    {"width":66,"height":111,"data":{"name":"t2"},"transform":[{"filter":"datum.k==12"}],"mark":{"type":"text"},"encoding":{"y":{"field":"r","type":"nominal","sort":["Var. Index","Shapley","Banzhaf"],"scale":{"paddingInner":0,"paddingOuter":0},"axis":{"grid":true,"tickBand":"extent","labels":false,"ticks":false,"title":null}},"text":{"field":"t"}}}
   ],"spacing":0,"bounds":"flush"}
  ],"spacing":-2}
 ],"spacing":9}
]
}
